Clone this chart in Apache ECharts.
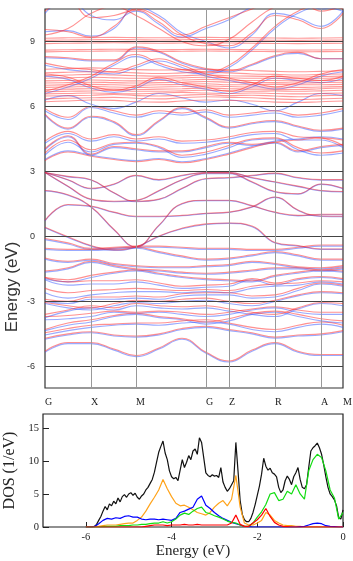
<!DOCTYPE html>
<html>
<head>
<meta charset="utf-8">
<script src="https://cdn.jsdelivr.net/npm/echarts@6/dist/echarts.min.js"></script>
<style>
html, body { margin: 0; padding: 0; background: #fff; }
#main { width: 353px; height: 561px; }
</style>
</head>
<body>
<div id="main"></div>
<script>
// k-path sampling (distance along path) and high-symmetry points
var kpts = [0, 23, 46, 69, 91, 114, 137, 161, 184, 207, 230, 253, 276, 298];
var kLabelPos = [0, 46, 91, 161, 184, 230, 276, 298];
var kLabels = ['G', 'X', 'M', 'G', 'Z', 'R', 'A', 'M'];
var eTicks = [-6, -3, 0, 3, 6, 9];

// valence + low conduction bands, spin up (blue)
var bandsUp = [
  [-5.35,-4.95,-4.95,-5.25,-5.55,-5.2,-4.75,-5.4,-5.8,-5.3,-4.95,-5.35,-5.5,-5.5],
  [-4.75,-4.55,-4.45,-4.6,-4.65,-4.55,-4.3,-4.2,-4.35,-4.5,-4.7,-4.6,-4.55,-4.4],
  [-4.55,-4.35,-4.2,-4.1,-4.05,-4.1,-4.0,-3.95,-4.05,-4.3,-4.4,-4.2,-4.05,-4.2],
  [-4.35,-4.1,-3.95,-3.7,-3.6,-3.75,-3.85,-4.05,-3.9,-3.6,-3.5,-3.7,-3.9,-4.0],
  [-3.85,-3.8,-3.7,-3.5,-3.55,-3.5,-3.6,-3.7,-3.6,-3.4,-3.3,-3.5,-3.6,-3.6],
  [-3.75,-3.45,-3.3,-3.4,-3.2,-3.3,-3.35,-3.3,-3.45,-3.6,-3.7,-3.35,-3.1,-3.2],
  [-3.1,-3.3,-3.4,-3.2,-3.05,-3.1,-3.0,-2.95,-3.1,-3.2,-3.0,-2.75,-2.6,-2.65],
  [-3.0,-3.1,-2.9,-2.9,-2.85,-2.9,-2.75,-2.7,-2.7,-2.85,-2.8,-2.5,-2.2,-2.3],
  [-2.6,-2.85,-2.7,-2.6,-2.55,-2.55,-2.6,-2.55,-2.6,-2.4,-2.3,-2.25,-2.1,-2.2],
  [-2.0,-2.25,-2.2,-2.2,-2.1,-2.25,-2.4,-2.35,-2.3,-2.0,-2.25,-2.0,-1.9,-2.0],
  [-1.95,-2.1,-1.9,-1.7,-1.6,-1.75,-1.9,-2.0,-2.05,-2.1,-1.85,-1.7,-1.6,-1.65],
  [-1.65,-1.5,-1.2,-1.4,-1.55,-1.6,-1.7,-1.75,-1.7,-1.6,-1.5,-1.5,-1.6,-1.5],
  [-1.05,-1.2,-1.1,-1.3,-1.4,-1.45,-1.45,-1.4,-1.35,-1.2,-1.3,-1.45,-1.5,-1.4],
  [-0.6,-0.65,-0.65,-0.6,-0.55,-0.75,-0.95,-1.1,-1.05,-0.9,-0.75,-0.9,-1.1,-1.1],
  [-0.15,-0.35,-0.6,-0.55,-0.5,-0.5,-0.55,-0.6,-0.6,-0.65,-0.65,-0.55,-0.45,-0.45],
  [0.4,-0.05,-0.45,-0.65,-0.5,0.0,0.35,0.55,0.6,0.45,-0.3,-0.45,-0.6,-0.6],
  [0.72,1.45,1.38,1.1,0.91,0.91,0.95,1.05,1.1,1.35,1.8,1.2,0.92,0.91],
  [2.1,1.9,1.35,0.3,-0.5,0.5,1.5,1.65,1.65,1.4,1.1,0.95,1.0,1.0],
  [2.95,2.3,1.7,1.6,1.65,2.1,2.6,2.9,2.9,2.5,2.05,1.95,2.4,2.2],
  [2.95,2.6,2.2,2.4,2.8,2.6,2.8,2.95,2.95,2.7,2.5,2.3,2.1,2.05],
  [2.95,2.75,2.6,2.0,1.6,1.7,2.2,2.65,2.7,2.8,2.9,2.7,2.6,2.6]
];
// same bands, spin down (red)
var bandsDn = [
  [-5.3,-4.9,-4.9,-5.2,-5.5,-5.15,-4.7,-5.35,-5.75,-5.25,-4.9,-5.3,-5.45,-5.45],
  [-4.7,-4.5,-4.4,-4.55,-4.6,-4.5,-4.25,-4.15,-4.3,-4.45,-4.65,-4.55,-4.5,-4.35],
  [-4.45,-4.25,-4.1,-4.05,-4.0,-4.0,-3.9,-3.85,-4.0,-4.2,-4.3,-4.1,-3.95,-4.1],
  [-4.3,-4.0,-3.85,-3.65,-3.55,-3.7,-3.8,-3.95,-3.8,-3.55,-3.45,-3.6,-3.8,-3.9],
  [-3.7,-3.65,-3.55,-3.45,-3.5,-3.45,-3.5,-3.6,-3.5,-3.35,-3.25,-3.4,-3.5,-3.5],
  [-3.6,-3.4,-3.2,-3.3,-3.1,-3.2,-3.25,-3.2,-3.35,-3.5,-3.6,-3.3,-3.05,-3.1],
  [-3.05,-3.2,-3.3,-3.1,-2.95,-3.0,-2.9,-2.85,-3.0,-3.1,-2.95,-2.7,-2.55,-2.6],
  [-2.9,-3.0,-2.8,-2.8,-2.75,-2.8,-2.65,-2.6,-2.6,-2.75,-2.7,-2.4,-2.15,-2.25],
  [-2.4,-2.6,-2.5,-2.45,-2.4,-2.45,-2.5,-2.45,-2.5,-2.3,-2.2,-2.15,-2.05,-2.1],
  [-1.9,-2.1,-2.05,-2.05,-2.0,-2.15,-2.3,-2.25,-2.2,-1.95,-2.15,-1.95,-1.85,-1.95],
  [-1.9,-2.0,-1.8,-1.65,-1.55,-1.7,-1.85,-1.95,-2.0,-2.05,-1.8,-1.65,-1.55,-1.6],
  [-1.6,-1.45,-1.15,-1.35,-1.5,-1.55,-1.65,-1.7,-1.65,-1.55,-1.45,-1.45,-1.55,-1.45],
  [-1.0,-1.15,-1.05,-1.25,-1.35,-1.4,-1.4,-1.35,-1.3,-1.15,-1.25,-1.4,-1.45,-1.35],
  [-0.55,-0.6,-0.6,-0.55,-0.5,-0.7,-0.9,-1.05,-1.0,-0.85,-0.7,-0.85,-1.05,-1.05],
  [-0.1,-0.3,-0.55,-0.5,-0.45,-0.45,-0.5,-0.55,-0.55,-0.6,-0.6,-0.5,-0.4,-0.4],
  [0.42,-0.02,-0.42,-0.62,-0.48,0.02,0.38,0.58,0.62,0.48,-0.28,-0.42,-0.58,-0.58],
  [0.74,1.47,1.4,1.12,0.93,0.93,0.97,1.07,1.12,1.37,1.82,1.22,0.94,0.93],
  [2.12,1.92,1.37,0.32,-0.48,0.52,1.52,1.67,1.67,1.42,1.12,0.97,1.02,1.02],
  [2.95,2.32,1.72,1.62,1.67,2.12,2.62,2.92,2.92,2.52,2.07,1.97,2.42,2.22],
  [2.95,2.62,2.22,2.42,2.82,2.62,2.82,2.95,2.95,2.72,2.52,2.32,2.12,2.07],
  [2.95,2.77,2.62,2.02,1.62,1.72,2.22,2.67,2.72,2.82,2.92,2.72,2.62,2.62]
];
// bands between 3 and 6 eV
var condUp = [
  [3.55,3.95,3.75,3.6,3.5,3.6,3.45,3.6,3.85,4.15,4.4,4.5,4.6,4.5],
  [3.75,4.35,3.9,4.25,4.3,4.1,3.65,3.8,4.1,4.45,4.5,4.0,3.75,3.85],
  [4.0,4.6,3.75,4.1,4.0,3.9,3.9,4.1,4.3,4.2,4.3,3.9,4.1,4.2],
  [4.3,4.75,4.4,4.6,4.4,4.5,4.3,4.35,4.5,4.7,4.75,4.45,4.45,4.1],
  [5.6,4.95,5.5,5.25,4.65,5.3,5.9,5.45,5.0,5.2,5.3,5.05,4.85,4.95],
  [5.8,5.4,5.95,5.7,5.5,5.7,5.6,5.75,5.5,5.6,5.7,5.5,5.6,5.8]
];
var condDn = [
  [3.5,3.9,3.7,3.55,3.45,3.55,3.4,3.55,3.8,4.1,4.35,4.45,4.55,4.45],
  [3.85,4.45,4.0,4.3,4.35,4.15,3.75,3.9,4.2,4.5,4.55,4.1,3.85,3.95],
  [4.05,4.65,3.8,4.15,4.05,3.95,3.95,4.15,4.35,4.25,4.35,3.95,4.15,4.25],
  [4.4,4.85,4.5,4.7,4.5,4.6,4.4,4.45,4.6,4.8,4.85,4.6,4.55,4.2],
  [5.65,5.0,5.55,5.3,4.7,5.35,5.95,5.5,5.05,5.25,5.35,5.1,4.9,5.0],
  [5.9,5.5,6.0,5.8,5.6,5.8,5.7,5.85,5.6,5.7,5.8,5.6,5.7,5.9]
];
// nearly flat f-like bands, spin down
var flatDn = [
  [6.22,6.25,6.3,6.28,6.22,6.2,6.25,6.3,6.28,6.25,6.2,6.18,6.22,6.25],
  [6.35,6.38,6.4,6.42,6.38,6.35,6.4,6.45,6.42,6.4,6.35,6.32,6.35,6.38],
  [6.48,6.5,6.52,6.55,6.5,6.48,6.52,6.55,6.5,6.52,6.48,6.45,6.5,6.52],
  [6.58,6.6,6.62,6.6,6.58,6.62,6.65,6.62,6.6,6.62,6.6,6.58,6.6,6.62],
  [6.68,6.7,6.72,6.75,6.7,6.7,6.72,6.75,6.72,6.7,6.72,6.7,6.72,6.75],
  [6.78,6.8,6.82,6.8,6.78,6.8,6.82,6.85,6.82,6.8,6.8,6.78,6.82,6.85],
  [6.88,6.9,6.92,6.9,6.88,6.9,6.92,6.95,6.92,6.9,6.9,6.88,6.9,6.92],
  [6.98,7.0,7.02,7.0,6.98,7.0,7.02,7.05,7.0,7.0,7.02,7.0,7.0,7.02],
  [7.08,7.1,7.12,7.1,7.08,7.1,7.12,7.15,7.12,7.1,7.1,7.08,7.1,7.12],
  [7.18,7.2,7.22,7.2,7.18,7.2,7.22,7.25,7.22,7.2,7.2,7.18,7.2,7.2],
  [7.3,7.32,7.35,7.32,7.3,7.3,7.32,7.35,7.32,7.3,7.3,7.28,7.3,7.32],
  [7.42,7.45,7.48,7.45,7.42,7.4,7.42,7.45,7.42,7.4,7.38,7.36,7.38,7.4],
  [7.55,7.58,7.6,7.58,7.55,7.52,7.55,7.58,7.55,7.5,7.48,7.45,7.48,7.5],
  [7.72,7.75,7.78,7.75,7.7,7.68,7.7,7.72,7.7,7.66,7.62,7.6,7.62,7.65],
  [8.52,8.54,8.55,8.56,8.55,8.54,8.55,8.56,8.55,8.54,8.53,8.52,8.53,8.54],
  [8.6,8.62,8.63,8.64,8.63,8.62,8.63,8.64,8.63,8.62,8.61,8.6,8.61,8.62],
  [8.9,8.92,8.93,8.94,8.93,8.92,8.93,8.94,8.93,8.92,8.91,8.9,8.91,8.92],
  [9.05,9.07,9.08,9.09,9.08,9.07,9.08,9.09,9.08,9.07,9.06,9.05,9.06,9.07],
  [9.15,9.17,9.18,9.19,9.18,9.17,9.18,9.19,9.18,9.17,9.16,9.15,9.16,9.17]
];
// dispersive upper bands
var highUp = [
  [8.25,8.2,8.1,8.1,8.7,8.5,8.0,7.7,7.6,7.9,8.3,8.45,8.2,8.2],
  [7.4,7.25,6.85,6.65,6.85,7.25,7.0,6.8,6.6,6.9,7.3,7.2,7.1,7.3],
  [6.3,6.5,6.1,5.9,6.2,6.6,6.4,6.2,6.3,6.1,5.8,6.2,6.6,6.5],
  [9.45,9.5,9.25,9.6,10.6,10.2,9.4,9.0,8.7,9.3,10.3,10.1,9.7,10.4],
  [10.3,11.0,10.2,10.0,10.4,9.8,9.2,9.6,10.0,10.6,11.0,11.0,10.5,10.8],
  [7.9,7.7,7.6,7.5,7.8,8.1,7.8,7.4,7.2,7.0,6.8,7.0,7.4,7.6],
  [6.6,6.9,7.3,7.9,8.3,7.9,7.6,7.5,7.8,8.6,9.6,10.3,10.6,10.4]
];
var highDn = [
  [8.3,8.25,8.15,8.15,8.75,8.55,8.05,7.75,7.65,7.95,8.35,8.5,8.2,8.2],
  [7.5,7.35,6.95,6.75,6.95,7.35,7.1,6.9,6.7,7.0,7.4,7.3,7.2,7.4],
  [9.55,9.45,9.2,9.7,10.5,10.1,9.3,8.9,8.8,9.4,10.2,10.0,9.6,10.3],
  [10.4,10.9,10.1,10.2,10.45,9.9,9.3,9.7,10.1,10.5,10.9,10.9,10.4,10.7],
  [8.0,7.8,7.7,7.6,7.9,8.2,7.9,7.5,7.3,7.1,6.9,7.1,7.5,7.7],
  [6.7,7.0,7.4,8.0,8.4,8.0,7.7,7.6,7.9,8.7,9.7,10.4,10.7,10.5],
  [9.3,9.6,10.3,10.6,10.2,9.6,9.0,8.8,9.1,9.9,10.6,10.8,10.9,11.0]
];

// DOS: total on a 0.05 eV grid, projections on a 0.1 eV grid
var totE = [-6,-5.95,-5.9,-5.85,-5.8,-5.75,-5.7,-5.65,-5.6,-5.55,-5.5,-5.45,-5.4,-5.35,-5.3,-5.25,-5.2,-5.15,-5.1,-5.05,
  -5,-4.95,-4.9,-4.85,-4.8,-4.75,-4.7,-4.65,-4.6,-4.55,-4.5,-4.45,-4.4,-4.35,-4.3,-4.25,-4.2,-4.15,-4.1,-4.05,
  -4,-3.95,-3.9,-3.85,-3.8,-3.75,-3.7,-3.65,-3.6,-3.55,-3.5,-3.45,-3.4,-3.35,-3.3,-3.25,-3.2,-3.15,-3.1,-3.05,
  -3,-2.95,-2.9,-2.85,-2.8,-2.75,-2.7,-2.65,-2.6,-2.55,-2.5,-2.45,-2.4,-2.35,-2.3,-2.25,-2.2,-2.15,-2.1,-2.05,
  -2,-1.95,-1.9,-1.85,-1.8,-1.75,-1.7,-1.65,-1.6,-1.55,-1.5,-1.45,-1.4,-1.35,-1.3,-1.25,-1.2,-1.15,-1.1,-1.05,
  -1,-0.95,-0.9,-0.85,-0.8,-0.75,-0.7,-0.65,-0.6,-0.55,-0.5,-0.45,-0.4,-0.35,-0.3,-0.25,-0.2,-0.15,-0.1,-0.05,0];
var dosTotal = [0,0,0,0,0.1,0.4,1.0,1.6,2.4,3.1,2.6,3.5,3.2,3.9,3.5,4.4,3.8,4.6,4.9,4.5,
  5.0,5.2,4.8,5.1,4.5,4.2,4.7,5.0,5.6,6.0,6.6,7.2,8.3,9.8,11.3,12.2,13.0,11.2,10.2,8.5,
  7.6,7.3,7.5,7.0,8.6,10.2,9.0,9.8,10.8,10.2,11.5,11.8,11.0,13.5,12.8,10.5,8.2,7.8,7.6,7.9,
  7.7,7.8,7.5,9.0,6.8,6.0,5.4,5.8,6.4,7.0,12.8,8.5,4.0,1.9,1.1,0.8,0.8,1.3,2.2,3.4,
  4.8,6.2,8.0,10.4,9.2,8.6,8.9,8.2,8.0,7.6,6.0,5.2,5.6,7.0,7.7,7.2,6.4,7.6,8.2,9.0,
  7.2,6.0,5.8,6.4,9.0,11.5,12.0,12.3,12.7,12.0,11.0,9.4,7.6,6.0,5.0,4.6,4.1,3.2,1.4,1.2,2.6];
var pdosE = [-6,-5.9,-5.8,-5.7,-5.6,-5.5,-5.4,-5.3,-5.2,-5.1,-5,-4.9,-4.8,-4.7,-4.6,-4.5,-4.4,-4.3,-4.2,-4.1,
  -4,-3.9,-3.8,-3.7,-3.6,-3.5,-3.4,-3.3,-3.2,-3.1,-3,-2.9,-2.8,-2.7,-2.6,-2.5,-2.4,-2.3,-2.2,-2.1,
  -2,-1.9,-1.8,-1.7,-1.6,-1.5,-1.4,-1.3,-1.2,-1.1,-1,-0.9,-0.8,-0.7,-0.6,-0.5,-0.4,-0.3,-0.2,-0.1,0];
var dosOrange = [0,0,0,0.1,0.2,0.3,0.3,0.3,0.4,0.5,0.6,0.6,1.0,1.5,2.4,3.5,4.5,5.6,7.2,5.8,
  4.6,3.6,3.2,3.3,3.0,2.6,2.2,2.0,1.8,2.2,3.0,3.6,4.0,3.2,4.2,7.8,3.0,0.6,0.3,0.3,
  0.6,1.0,2.2,1.8,1.0,0.6,0.3,0.2,0.2,0.1,0.1,0,0,0,0,0,0,0,0,0,0];
var dosBlue = [0,0,0.05,0.5,1.0,1.3,1.2,1.4,1.3,1.6,1.7,1.5,1.5,1.2,1.1,1.2,1.2,1.1,1.2,1.1,
  1.0,1.3,2.2,2.4,2.7,3.0,4.2,4.7,3.3,2.8,2.2,1.7,1.3,1.0,0.7,0.5,0.3,0.1,0.05,0,
  0,0,0,0,0,0,0,0,0,0,0.05,0.1,0.3,0.5,0.6,0.5,0.2,0.1,0.05,0,0];
var dosGreen = [0,0,0,0,0.05,0.1,0.1,0.1,0.2,0.2,0.2,0.3,0.3,0.4,0.4,0.5,0.6,0.6,0.8,0.6,
  0.8,1.2,1.8,2.1,1.9,2.4,2.8,3.0,2.2,2.0,1.7,1.5,1.2,0.9,0.7,0.6,0.3,0.1,0.1,0.6,
  1.5,2.3,3.4,5.0,5.2,4.0,4.2,5.4,5.0,6.4,5.0,4.2,8.5,10.2,11.0,10.5,8.5,5.6,4.4,1.2,2.2];
var dosRed = [0,0,0,0,0,0,0,0,0,0,0,0,0,0,0.1,0.2,0.3,0.3,0.3,0.2,
  0.3,0.3,0.3,0.4,0.3,0.3,0.4,0.3,0.3,0.3,0.3,0.3,0.3,0.3,0.6,1.8,0.4,0.1,0.1,0.6,
  1.1,1.8,2.8,1.6,0.7,0.3,0.1,0.05,0,0,0,0,0,0,0,0,0,0,0,0,0];
var dosTicksX = [-6, -4, -2, 0];
var dosTicksY = [0, 5, 10, 15];

var chart = echarts.init(document.getElementById('main'));

function bandSeries(rows, color) {
  return rows.map(function (row) {
    return {
      type: 'line', xAxisIndex: 0, yAxisIndex: 0,
      data: row.map(function (e, i) { return [kpts[i], e]; }),
      smooth: 0.45, showSymbol: false, silent: true,
      lineStyle: { color: color, width: 1.1, opacity: 0.5 }
    };
  });
}
function dosSeries(xs, ys, color) {
  return {
    type: 'line', xAxisIndex: 1, yAxisIndex: 1,
    data: ys.map(function (v, i) { return [xs[i], v]; }),
    showSymbol: false, silent: true,
    lineStyle: { color: color, width: 1.2 }
  };
}

var series = []
  .concat(bandSeries(bandsUp, '#3355ff'))
  .concat(bandSeries(condUp, '#3355ff'))
  .concat(bandSeries(highUp, '#3355ff'))
  .concat(bandSeries(bandsDn, '#ff2222'))
  .concat(bandSeries(condDn, '#ff2222'))
  .concat(bandSeries(flatDn, '#ff3333'))
  .concat(bandSeries(highDn, '#ff2222'));

// grid lines of the band panel
series.push({
  type: 'line', xAxisIndex: 0, yAxisIndex: 0, data: [], z: 5,
  markLine: {
    silent: true, symbol: 'none', label: { show: false }, animation: false,
    data: eTicks.map(function (v) {
      return { yAxis: v, lineStyle: { color: '#444', width: 1.2, type: 'solid' } };
    }).concat(kLabelPos.slice(1, -1).map(function (v) {
      return { xAxis: v, lineStyle: { color: '#999', width: 1, type: 'solid' } };
    }))
  }
});

series.push(dosSeries(totE, dosTotal, '#111'));
series.push(dosSeries(pdosE, dosOrange, '#ffa31a'));
series.push(dosSeries(pdosE, dosBlue, '#0000ff'));
series.push(dosSeries(pdosE, dosGreen, '#11dd11'));
series.push(dosSeries(pdosE, dosRed, '#ff0000'));

chart.setOption({
  animation: false,
  backgroundColor: '#fff',
  grid: [
    { left: 45, top: 9, width: 298, height: 379, show: true, borderColor: '#333', borderWidth: 1.2,
      containLabel: false, outerBoundsMode: 'none' },
    { left: 43, top: 414, width: 300, height: 113, show: true, borderColor: '#222', borderWidth: 1.2,
      containLabel: false, outerBoundsMode: 'none' }
  ],
  xAxis: [
    {
      type: 'value', gridIndex: 0, position: 'bottom', min: 0, max: 298,
      axisLine: { show: false, onZero: false }, axisTick: { show: false }, splitLine: { show: false },
      axisLabel: {
        customValues: kLabelPos, align: 'left', margin: 9,
        fontFamily: 'Liberation Serif', fontSize: 10, color: '#222',
        formatter: function (v) { return kLabels[kLabelPos.indexOf(v)]; }
      }
    },
    {
      type: 'value', gridIndex: 1, position: 'bottom', min: -7, max: 0,
      axisLine: { show: false, onZero: false }, splitLine: { show: false },
      axisTick: { inside: true, length: 5, customValues: dosTicksX, lineStyle: { color: '#222' } },
      axisLabel: { customValues: dosTicksX, margin: 5, fontFamily: 'Liberation Serif', fontSize: 10.5, color: '#222' },
      name: 'Energy (eV)', nameLocation: 'middle', nameGap: 12,
      nameTextStyle: { fontFamily: 'Liberation Serif', fontSize: 15, color: '#222' }
    }
  ],
  yAxis: [
    {
      type: 'value', gridIndex: 0, position: 'left', min: -7, max: 10.5,
      axisLine: { show: false, onZero: false }, axisTick: { show: false }, splitLine: { show: false },
      axisLabel: { customValues: eTicks, margin: 10, fontFamily: 'Liberation Sans', fontSize: 9, color: '#333' }
    },
    {
      type: 'value', gridIndex: 1, position: 'left', min: 0, max: 17.1,
      axisLine: { show: false, onZero: false }, splitLine: { show: false },
      axisTick: { inside: true, length: 6, customValues: dosTicksY, lineStyle: { color: '#222' } },
      axisLabel: { customValues: dosTicksY, margin: 4, fontFamily: 'Liberation Serif', fontSize: 10.5, color: '#222' },
      name: 'DOS (1/eV)', nameLocation: 'middle', nameGap: 18,
      nameTextStyle: { fontFamily: 'Liberation Serif', fontSize: 16, color: '#222' }
    }
  ],
  graphic: [{
    type: 'text', x: 12, y: 287, rotation: Math.PI / 2,
    style: { text: 'Energy (eV)', font: '17px "Liberation Sans"', fill: '#333', textAlign: 'center', textVerticalAlign: 'middle' }
  }],
  series: series
});
</script>
</body>
</html>
